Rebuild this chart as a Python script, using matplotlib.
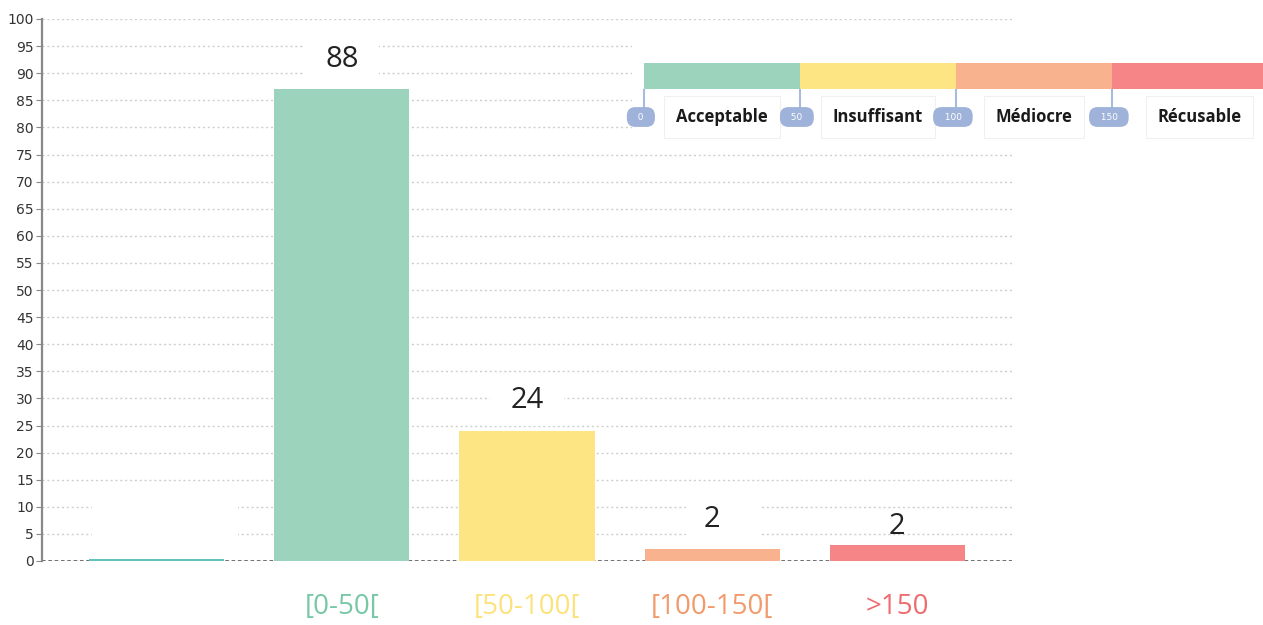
import numpy as np
import matplotlib
matplotlib.use("Agg")
import matplotlib.pyplot as plt
from matplotlib.patches import Rectangle

# ---------------- data ----------------
categories = ["", "[0-50[", "[50-100[", "[100-150[", ">150"]
values = [0.3, 87, 24, 2.2, 3]
value_labels = ["", "88", "24", "2", "2"]
bar_colors = ["#5fc4bb", "#9bd3bd", "#fde583", "#f8b38e", "#f58587"]
tick_colors = ["#5fc4bb", "#78c8a6", "#fde27c", "#f29a6c", "#ef6b6f"]
yticks = list(range(0, 101, 5))

legend_thresholds = [0, 50, 100, 150]
legend_labels = ["Acceptable", "Insuffisant", "Médiocre", "Récusable"]
legend_colors = ["#9bd3bd", "#fde583", "#f8b38e", "#f58587"]

# ---------------- figure ----------------
W, H = 1263, 625
fig = plt.figure(figsize=(W / 100, H / 100), dpi=100)
fig.patch.set_facecolor("white")
plt.rcParams["font.family"] = ["Open Sans", "DejaVu Sans"]

ax = fig.add_axes([42 / W, (H - 561) / H, (1012 - 42) / W, (561 - 19) / H])
x = np.arange(len(categories))
ax.set_xlim(-0.62, 4.62)
ax.set_ylim(0, 100)

# grid
ax.set_yticks(yticks)
ax.yaxis.grid(True, color="#cfcfcf", linestyle=(0, (1.5, 2)), linewidth=1, zorder=0)
ax.set_axisbelow(True)
ax.axhline(0, color="#666666", linestyle=(0, (2, 1.5)), linewidth=1.3, zorder=1)

# white boxes behind value labels (break the grid)
label_offsets = [0, 5.5, 5.7, 5.5, 3.3]
box_on = [True, True, True, True, False]
for i, (v, lab) in enumerate(zip(values, value_labels)):
    if not box_on[i]:
        continue
    if lab == "":
        ax.add_patch(Rectangle((x[i] - 0.35, 0.3), 0.79, 12.8, facecolor="white",
                               edgecolor="none", zorder=1.5))
    else:
        cy = v + label_offsets[i]
        cx = x[i] + (0.06 if i == 3 else 0)
        ax.add_patch(Rectangle((cx - 0.2, cy - 4.8), 0.4, 9.6, facecolor="white",
                               edgecolor="none", zorder=1.5))

bars = ax.bar(x, values, width=0.73, color=bar_colors, zorder=2)

for i, (v, lab) in enumerate(zip(values, value_labels)):
    if lab:
        ax.text(x[i], v + label_offsets[i], lab, ha="center", va="center",
                fontsize=21, color="#222222", zorder=3)

# axes styling
for s in ["top", "right", "bottom"]:
    ax.spines[s].set_visible(False)
ax.spines["left"].set_color("#888888")
ax.spines["left"].set_linewidth(1.6)
ax.tick_params(axis="y", direction="out", length=4, color="#888888",
               labelsize=10, labelcolor="#333333", pad=2)
ax.set_yticklabels([str(t) for t in yticks], family="DejaVu Sans")
ax.set_xticks(x)
ax.set_xticklabels(categories)
ax.tick_params(axis="x", length=0, pad=23, labelsize=20)
for t, c in zip(ax.get_xticklabels(), tick_colors):
    t.set_color(c)

# ---------------- legend strip ----------------
scale = 156 / 50  # px per unit
left_px, right_px = 632, W
top_px, bot_px = 35, 140
lax = fig.add_axes([left_px / W, (H - bot_px) / H, (right_px - left_px) / W,
                    (bot_px - top_px) / H])
lax.set_xlim((left_px - 644) / scale, (right_px - 644) / scale)
lax.set_ylim(bot_px, top_px)
lax.set_facecolor("white")
lax.set_xticks([])
lax.set_yticks([])
for s in lax.spines.values():
    s.set_visible(False)

lax.bar(legend_thresholds, 26, width=50, bottom=63, align="edge",
        color=legend_colors, zorder=2)
lax.vlines(legend_thresholds, 89, 110, color="#a9bbdd", linewidth=1.5, zorder=1)

for t in legend_thresholds:
    lax.text(t - 1, 117, f"  {t}  ", ha="center", va="center", fontsize=6.5,
             color="white", family="DejaVu Sans",
             bbox=dict(boxstyle="round,pad=0.6,rounding_size=0.95",
                       facecolor="#9fb2d9", edgecolor="none"), zorder=4)

for t, lab in zip(legend_thresholds, legend_labels):
    cx = t + 25 + (3 if lab == "Récusable" else 0)
    lax.text(cx, 117, lab, ha="center", va="center", fontsize=12,
             fontweight="bold", color="#1a1a1a",
             bbox=dict(boxstyle="square,pad=0.7", facecolor="white",
                       edgecolor="#f0f0f0", linewidth=0.8), zorder=3)

fig.savefig("out.png", dpi=100, facecolor="white")
